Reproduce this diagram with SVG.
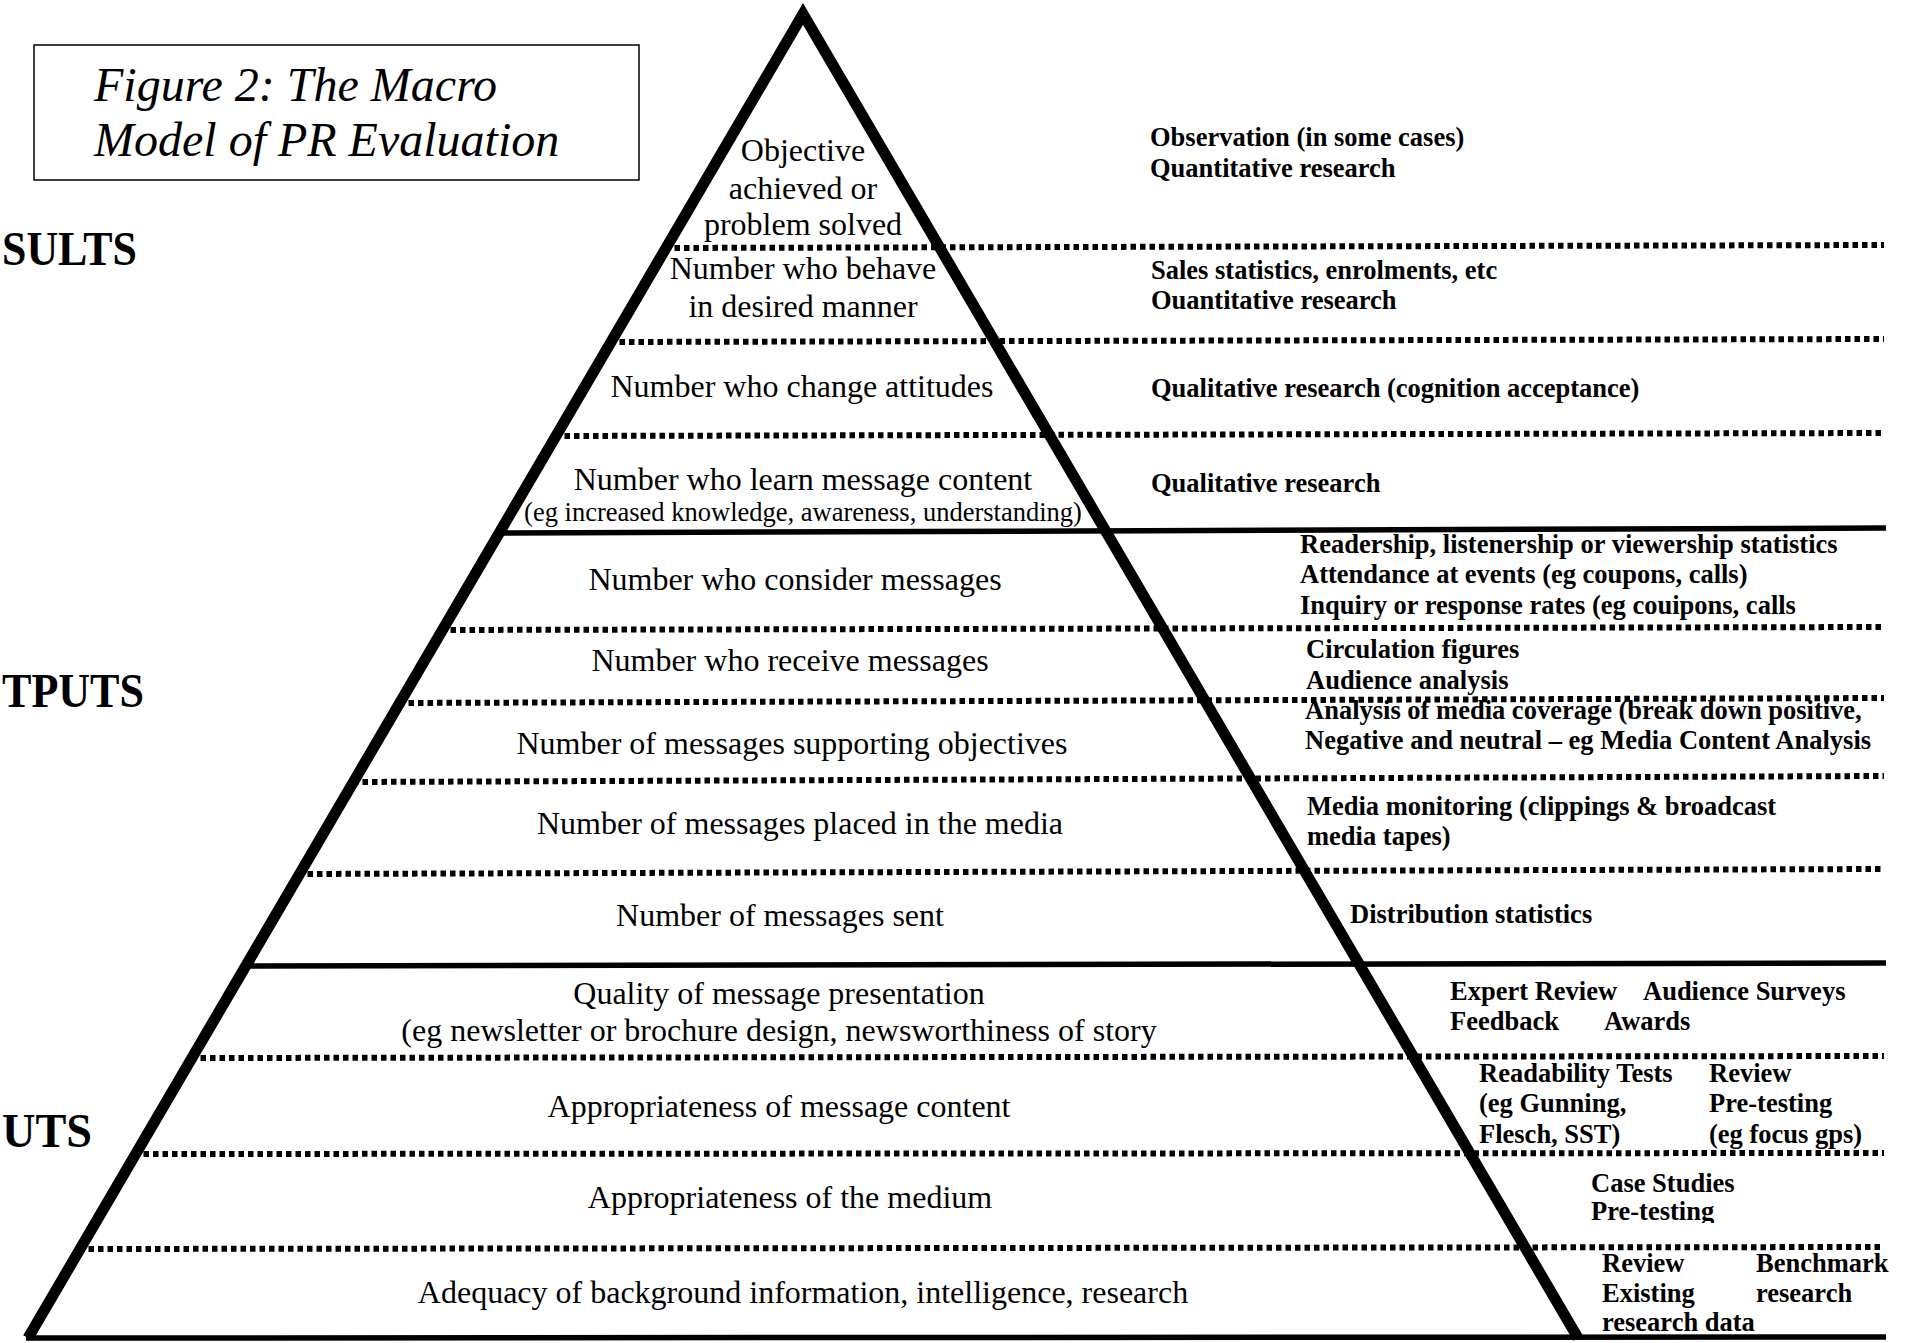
<svg xmlns="http://www.w3.org/2000/svg" width="1910" height="1343" viewBox="0 0 1910 1343">
<style>
text{font-family:"Liberation Serif","Times New Roman",serif;fill:#000}
.p{font-size:32px;text-anchor:middle}
.s{font-size:26.5px;text-anchor:middle}
.r{font-size:26.5px;font-weight:bold}
.lab{font-size:48px;font-weight:bold}
.title{font-size:48px;font-style:italic}
.dot{stroke:#000;stroke-width:6;stroke-dasharray:5.5 4;fill:none}
.sol{stroke:#000;stroke-width:5.5;fill:none}
.side{stroke:#000;stroke-width:11;fill:none;stroke-linejoin:miter;stroke-miterlimit:20}
</style>
<defs>
<clipPath id="clipPre"><rect x="1500" y="1160" width="300" height="63"/></clipPath>
</defs>
<rect width="1910" height="1343" fill="#fff"/>

<g id="title">
<rect x="34" y="45" width="605" height="135" fill="none" stroke="#000" stroke-width="1.5"/>
<text class="title" x="94" y="101">Figure 2: The Macro</text>
<text class="title" x="94" y="156">Model of PR Evaluation</text>
</g>

<g id="labels">
<text class="lab" x="2" y="265" textLength="135" lengthAdjust="spacingAndGlyphs">SULTS</text>
<text class="lab" x="2" y="707" textLength="142" lengthAdjust="spacingAndGlyphs">TPUTS</text>
<text class="lab" x="2" y="1147" textLength="90" lengthAdjust="spacingAndGlyphs">UTS</text>
</g>

<g id="connectors">
<line class="dot" x1="665" y1="248" x2="1884" y2="245"/>
<line class="dot" x1="610" y1="342" x2="1884" y2="339"/>
<line class="dot" x1="555" y1="436" x2="1884" y2="433"/>
<line class="sol" x1="499" y1="533" x2="1886" y2="528"/>
<line class="dot" x1="441" y1="630" x2="1884" y2="627"/>
<line class="dot" x1="399" y1="703" x2="1884" y2="698"/>
<line class="dot" x1="353" y1="782" x2="1884" y2="776"/>
<line class="dot" x1="298" y1="874" x2="1884" y2="869"/>
<line class="sol" x1="245" y1="966" x2="1886" y2="963"/>
<line class="dot" x1="191" y1="1058" x2="1884" y2="1056"/>
<line class="dot" x1="134" y1="1154" x2="1884" y2="1153"/>
<line class="dot" x1="79" y1="1249" x2="1884" y2="1247"/>
<line class="sol" x1="26" y1="1338" x2="1886" y2="1337"/>
<polyline class="side" points="28,1338 803,14 1578,1338"/>
</g>

<g id="n-objective"><text class="p" x="803" y="161">Objective</text><text class="p" x="803" y="199">achieved or</text><text class="p" x="803" y="235">problem solved</text></g>
<g id="n-behave"><text class="p" x="803" y="279">Number who behave</text><text class="p" x="803" y="317">in desired manner</text></g>
<g id="n-attitudes"><text class="p" x="802" y="397">Number who change attitudes</text></g>
<g id="n-learn"><text class="p" x="803" y="490">Number who learn message content</text><text class="s" x="803" y="521">(eg increased knowledge, awareness, understanding)</text></g>
<g id="n-consider"><text class="p" x="795" y="590">Number who consider messages</text></g>
<g id="n-receive"><text class="p" x="790" y="671">Number who receive messages</text></g>
<g id="n-supporting"><text class="p" x="792" y="754">Number of messages supporting objectives</text></g>
<g id="n-placed"><text class="p" x="800" y="834">Number of messages placed in the media</text></g>
<g id="n-sent"><text class="p" x="780" y="926">Number of messages sent</text></g>
<g id="n-quality"><text class="p" x="779" y="1004">Quality of message presentation</text><text class="p" x="779" y="1041">(eg newsletter or brochure design, newsworthiness of story</text></g>
<g id="n-content"><text class="p" x="779" y="1117">Appropriateness of message content</text></g>
<g id="n-medium"><text class="p" x="790" y="1208">Appropriateness of the medium</text></g>
<g id="n-adequacy"><text class="p" x="803" y="1303">Adequacy of background information, intelligence, research</text></g>

<g id="m-objective"><text class="r" x="1150" y="146">Observation (in some cases)</text><text class="r" x="1150" y="177">Quantitative research</text></g>
<g id="m-behave"><text class="r" x="1151" y="279">Sales statistics, enrolments, etc</text><text class="r" x="1151" y="309">Ouantitative research</text></g>
<g id="m-attitudes"><text class="r" x="1151" y="397">Qualitative research (cognition acceptance)</text></g>
<g id="m-learn"><text class="r" x="1151" y="492">Qualitative research</text></g>
<g id="m-consider"><text class="r" x="1300" y="553">Readership, listenership or viewership statistics</text><text class="r" x="1300" y="583">Attendance at events (eg coupons, calls)</text><text class="r" x="1300" y="614">Inquiry or response rates (eg couipons, calls</text></g>
<g id="m-receive"><text class="r" x="1306" y="658">Circulation figures</text><text class="r" x="1306" y="689">Audience analysis</text></g>
<g id="m-supporting"><text class="r" x="1305" y="719">Analysis of media coverage (break down positive,</text><text class="r" x="1305" y="749">Negative and neutral – eg Media Content Analysis</text></g>
<g id="m-placed"><text class="r" x="1307" y="815">Media monitoring (clippings &amp; broadcast</text><text class="r" x="1307" y="845">media tapes)</text></g>
<g id="m-sent"><text class="r" x="1350" y="923">Distribution statistics</text></g>
<g id="m-quality"><text class="r" x="1450" y="1000">Expert Review</text><text class="r" x="1643" y="1000">Audience Surveys</text><text class="r" x="1450" y="1030">Feedback</text><text class="r" x="1604" y="1030">Awards</text></g>
<g id="m-content"><text class="r" x="1479" y="1082">Readability Tests</text><text class="r" x="1709" y="1082">Review</text><text class="r" x="1479" y="1112">(eg Gunning,</text><text class="r" x="1709" y="1112">Pre-testing</text><text class="r" x="1479" y="1143">Flesch, SST)</text><text class="r" x="1709" y="1143">(eg focus gps)</text></g>
<g id="m-medium"><text class="r" x="1591" y="1192">Case Studies</text><text class="r" x="1591" y="1220" clip-path="url(#clipPre)">Pre-testing</text></g>
<g id="m-adequacy"><text class="r" x="1602" y="1272">Review</text><text class="r" x="1756" y="1272">Benchmark</text><text class="r" x="1602" y="1302">Existing</text><text class="r" x="1756" y="1302">research</text><text class="r" x="1602" y="1331">research data</text></g>
</svg>
